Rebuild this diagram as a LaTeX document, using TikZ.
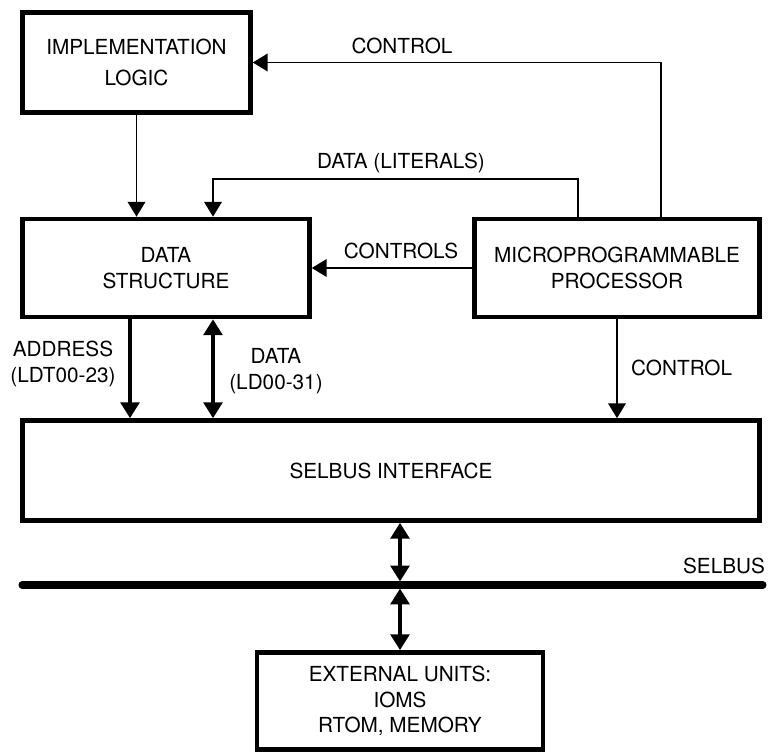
\documentclass[tikz,border=0pt]{standalone}
\usepackage{fontspec}
\setmainfont{TeX Gyre Heros}
\usetikzlibrary{arrows.meta}

\begin{document}
\begin{tikzpicture}[x=0.02cm,y=-0.02cm,
  font=\fontsize{11.8}{14.5}\selectfont,
  block/.style={draw,line width=2.6pt,align=center,inner sep=0pt},
  link/.style={line width=1.1pt,-{Triangle[width=10pt,length=8.5pt]}},
  bus/.style={line width=2.8pt,-{Triangle[width=10.5pt,length=9pt]}},
  dbus/.style={line width=2.8pt,{Triangle[width=10.5pt,length=9pt]}-{Triangle[width=10.5pt,length=9pt]}},
  tag/.style={align=center}]

  \useasboundingbox (0,0) rectangle (768,754);

  % blocks
  \node [block,minimum width=4.56cm,minimum height=2cm] (impl) at (136.5,62.5)
    {IMPLEMENTATION\\[3.5pt]LOGIC};
  \node [block,minimum width=5.74cm,minimum height=1.96cm] (data) at (166,268)
    {DATA\\STRUCTURE};
  \node [block,minimum width=5.7cm,minimum height=1.96cm] (proc) at (617,268)
    {MICROPROGRAMMABLE\\PROCESSOR};
  \node [block,minimum width=14.74cm,minimum height=2cm] (sif) at (391,470.5)
    {SELBUS INTERFACE};
  \node [block,minimum width=5.72cm,minimum height=1.94cm] (ext) at (400,701)
    {EXTERNAL UNITS:\\IOMS\\RTOM, MEMORY};

  % the bus
  \coordinate (busL) at (22,585);
  \coordinate (busR) at (763,585);
  \coordinate (tap) at (400,585);
  \coordinate (lit) at (213,179);
  \draw [line width=4pt,line cap=round] (busL) -- (busR);

  % control and data paths
  \draw [link] ([xshift=0.88cm]proc.north) |- (impl.east);
  \draw [link] (impl.south) -- (impl.south |- data.north);
  \draw [link] ([xshift=-0.78cm]proc.north) |- (lit) -- (lit |- data.north);
  \draw [link] (proc.west) -- (data.east);
  \draw [link] (proc.south) -- (proc.south |- sif.north);
  \draw [bus] ([xshift=-0.72cm]data.south) -- ([xshift=-0.72cm]data.south |- sif.north);
  \draw [dbus] ([xshift=0.94cm]data.south) -- ([xshift=0.94cm]data.south |- sif.north);
  \draw [dbus,shorten >=2pt] (sif.south -| tap) -- (tap);
  \draw [dbus,shorten <=2pt] (tap) -- (ext.north);

  % labels
  \node (lctl) at (402,46) {CONTROL};
  \node (llit) at (401,163) {DATA (LITERALS)};
  \node (lctls) at (401,251) {CONTROLS};
  \node [anchor=west] (lctl2) at (625,368) {CONTROL};
  \node [tag] (laddr) at (63,364) {ADDRESS\\(LDT00-23)};
  \node [tag] (ldat) at (276,371) {DATA\\(LD00-31)};
  \node (lbus) at (724,566) {SELBUS};
\end{tikzpicture}
\end{document}
